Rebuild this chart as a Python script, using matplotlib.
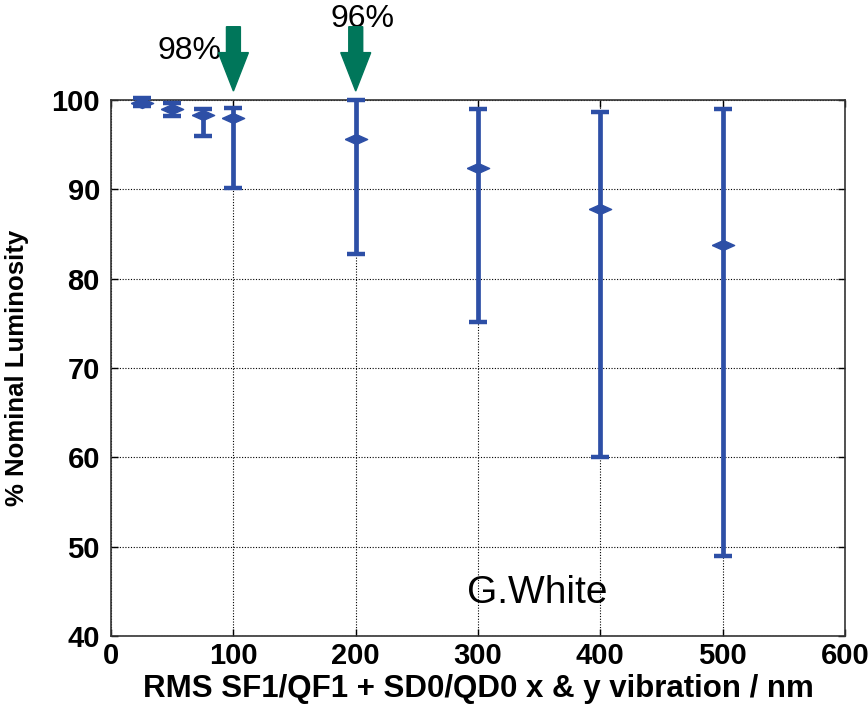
import matplotlib
matplotlib.use('Agg')
from matplotlib import pyplot as plt
from matplotlib.patches import FancyArrow
import numpy as np

# RMS vibration (nm) and luminosity (% nominal)
vibration = [25, 50, 75, 100, 200, 300, 400, 500]
lumi_mean = [99.7, 99.0, 98.3, 98.0, 95.6, 92.4, 87.8, 83.8]
lumi_low = [99.3, 98.2, 96.0, 90.2, 82.8, 75.2, 60.0, 49.0]
lumi_high = [100.2, 99.7, 99.0, 99.1, 100.0, 99.0, 98.7, 99.0]

arrow_x = [100, 200]
arrow_labels = ['98%', '96%']
label_pos = [(38, 104.6), (179, 108.2)]

blue = '#2d4fa6'
green = '#00765a'
font = ['Liberation Sans', 'DejaVu Sans']

fig = plt.figure(figsize=(8.68, 7.07), dpi=100)
ax = fig.add_axes([0.128, 0.1004, 0.8455, 0.7582])

mean = np.array(lumi_mean)
yerr = [mean - np.array(lumi_low), np.array(lumi_high) - mean]

# flat diamond marker for the means
flat = [(-1, 0), (0, 0.45), (1, 0), (0, -0.45), (-1, 0)]
ax.errorbar(vibration, lumi_mean, yerr=yerr, fmt='none', ecolor=blue,
            elinewidth=3.4, capsize=6.5, capthick=3.2, zorder=3, clip_on=False)
ax.plot(vibration, lumi_mean, linestyle='none', marker=flat, markersize=16,
        color=blue, zorder=4, clip_on=False)

ax.set_xlim(0, 600)
ax.set_ylim(40, 100)
ax.set_xticks(range(0, 601, 100))
ax.set_yticks(range(40, 101, 10))
ax.grid(True, color='black', linestyle=(0, (1, 1.5)), linewidth=0.8)
ax.tick_params(direction='in', top=True, right=True, length=5, width=1)
ax.tick_params(axis='y', pad=8)
ax.tick_params(axis='x', pad=4)
for lab in ax.get_xticklabels() + ax.get_yticklabels():
    lab.set_family(font)
    lab.set_fontweight('bold')
    lab.set_fontsize(21)
for sp in ax.spines.values():
    sp.set_linewidth(1.2)
    sp.set_color('#333333')

ax.set_xlabel('RMS SF1/QF1 + SD0/QD0 x & y vibration / nm', family=font,
              fontweight='bold', fontsize=22.5, labelpad=3)
ax.set_ylabel('% Nominal Luminosity', family=font, fontweight='bold',
              fontsize=18.5, labelpad=16)

# green arrows above the axes
for xa in arrow_x:
    arr = FancyArrow(xa, 108.2, 0, -7.2, width=11.4, head_width=24.5,
                     head_length=4.3, length_includes_head=True,
                     color=green, clip_on=False, zorder=5)
    ax.add_patch(arr)

for txt, (tx, ty) in zip(arrow_labels, label_pos):
    ax.text(tx, ty, txt, fontsize=23, family=font,
            ha='left', va='baseline', clip_on=False)

ax.text(291, 43.7, 'G.White', fontsize=28, family=font,
        ha='left', va='baseline')

fig.savefig('out.png', dpi=100)
